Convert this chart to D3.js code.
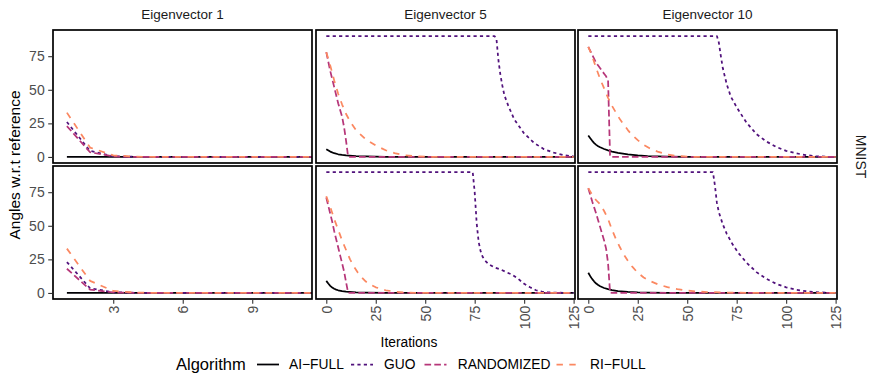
<!DOCTYPE html>
<html>
<head>
<meta charset="utf-8">
<script src="https://cdn.jsdelivr.net/npm/d3@7"></script>
<style>
  html, body { margin: 0; padding: 0; background: #fff; }
  svg { display: block; font-family: "Liberation Sans", Arial, Helvetica, sans-serif; }
</style>
</head>
<body>
<svg id="chart" width="872" height="377"></svg>
<script>
// ---------------- DATA ----------------
const algorithms = ["AI\u2212FULL", "GUO", "RANDOMIZED", "RI\u2212FULL"];
const colors = ["#000004", "#51127C", "#B63679", "#FB8861"];
const eigenvectors = ["Eigenvector 1", "Eigenvector 5", "Eigenvector 10"];
const datasetLabel = "MNIST";
const yTicks = [0, 25, 50, 75];
const xTicksEv1 = [3, 6, 9];
const xTicksEvN = [0, 25, 50, 75, 100, 125];

// Row 1 (top)
const r1_ev1_ai   = [[1,0],[12,0]];
const r1_ev1_guo  = [[1,26],[2,4.5],[3,0.5],[4,0.1],[5,0],[12,0]];
const r1_ev1_rand = [[1,23],[2,3.5],[3,0.4],[4,0.05],[5,0],[12,0]];
const r1_ev1_ri   = [[1,33],[2,7],[3,1.2],[4,0.2],[5,0],[12,0]];

const r1_ev5_ai   = [[0,5.8],[2,4],[4,2.8],[6,2],[8,1.5],[10,1.1],[15,0.6],[20,0.35],[30,0.15],[50,0.05],[125,0]];
const r1_ev5_guo  = [[0,90],[85,90],[86,88],[87,72],[88,61],[89,53],[90,46],[92,38],[95,28],[100,17.5],[105,10.5],[110,5.8],[115,3.2],[120,1.4],[125,0.4]];
const r1_ev5_rand = [[0,78],[2,64],[4,52],[6,40],[7,35],[8,30],[9,22],[10,12],[11,0.5],[12,0],[125,0]];
const r1_ev5_ri   = [[0,78],[2,68],[4,57],[6,47],[8,39],[10,32],[12,26.5],[15,20],[20,13],[25,8.5],[30,5],[35,2.6],[40,1.2],[45,0.5],[50,0.15],[60,0],[125,0]];

const r1_ev10_ai   = [[0,16],[1,14],[2,12],[3,10.3],[4,9],[5,8],[6,7.2],[8,5.9],[10,4.9],[12,4],[15,3],[20,1.9],[25,1.2],[30,0.7],[40,0.3],[50,0.1],[60,0],[125,0]];
const r1_ev10_guo  = [[0,90],[65,90],[66,85],[67,75],[68,66],[70,54],[72,45],[75,37],[78,30],[80,25.5],[85,17],[90,11.5],[95,7.5],[100,4.5],[105,2.7],[110,1.4],[115,0.6],[120,0.2],[125,0]];
const r1_ev10_rand = [[0,82],[1,79],[2,76],[3,73],[4,70],[5,68],[6,66],[7,64],[8,62],[9,60],[10,57],[11,0.3],[12,0],[125,0]];
const r1_ev10_ri   = [[0,82],[2,75],[4,66],[6,58],[8,51],[10,44],[12,38],[14,33],[16,28],[18,24],[20,20],[22,16.5],[25,12.5],[28,9],[31,6.5],[35,4],[40,1.8],[45,0.7],[50,0.2],[55,0],[125,0]];

// Row 2 (bottom)
const r2_ev1_ai   = [[1,0],[12,0]];
const r2_ev1_guo  = [[1,23],[2,3.5],[3,0.5],[4,0.1],[5,0],[12,0]];
const r2_ev1_rand = [[1,18],[2,2.5],[3,0.4],[4,0.05],[5,0],[12,0]];
const r2_ev1_ri   = [[1,33],[2,9],[3,1.5],[4,0.3],[5,0],[12,0]];

const r2_ev5_ai   = [[0,9],[1,7],[2,5.3],[3,4],[4,3.1],[5,2.5],[6,2],[8,1.4],[10,1],[15,0.5],[20,0.3],[30,0.1],[50,0],[125,0]];
const r2_ev5_guo  = [[0,90],[74,90],[75,75],[76,52],[77,38],[78,31],[79,27],[80,24.5],[82,21.5],[85,19],[88,17.5],[91,15.5],[94,13.5],[97,10.5],[100,6.8],[103,4.2],[106,2],[109,1],[112,0.5],[115,0.3],[120,0.1],[125,0]];
const r2_ev5_rand = [[0,71],[1,65],[2,59],[3,53],[4,46],[5,40],[6,34],[7,28],[8,22],[9,16],[10,8],[11,0.3],[12,0],[125,0]];
const r2_ev5_ri   = [[0,72],[2,64],[4,55],[6,47],[8,39],[10,32],[12,25],[14,19.5],[16,15],[18,11.5],[20,8.5],[22,6.5],[25,4.2],[30,2],[35,0.9],[40,0.3],[45,0.1],[50,0],[125,0]];

const r2_ev10_ai   = [[0,15],[1,12.5],[2,10.3],[3,8.5],[4,7],[5,5.9],[6,5],[8,3.7],[10,2.8],[12,2.1],[15,1.4],[20,0.8],[25,0.4],[30,0.2],[40,0.05],[50,0],[125,0]];
const r2_ev10_guo  = [[0,90],[63,90],[64,80],[65,67],[66,60],[68,51],[70,44],[73,36],[76,29.5],[80,22.5],[85,15.5],[90,10.5],[95,6.8],[100,4.2],[105,2.4],[110,1.3],[115,0.6],[120,0.2],[125,0]];
const r2_ev10_rand = [[0,78],[1,73],[2,68],[3,63.5],[4,59],[5,54],[6,49],[7,44],[8,39],[9,33],[10,22],[11,0.3],[12,0],[125,0]];
const r2_ev10_ri   = [[0,78],[2,73],[4,69],[6,66],[8,61],[10,55],[12,47],[14,40],[16,34],[18,28.5],[20,24],[22,20],[25,15],[28,11.5],[31,9],[35,6.5],[40,4.3],[45,2.8],[50,1.8],[55,1.1],[60,0.7],[70,0.3],[80,0.1],[90,0],[125,0]];

// panel table built from the arrays: [row][col] -> series in algorithm order
const panelSeries = [
  [[r1_ev1_ai, r1_ev1_guo, r1_ev1_rand, r1_ev1_ri],
   [r1_ev5_ai, r1_ev5_guo, r1_ev5_rand, r1_ev5_ri],
   [r1_ev10_ai, r1_ev10_guo, r1_ev10_rand, r1_ev10_ri]],
  [[r2_ev1_ai, r2_ev1_guo, r2_ev1_rand, r2_ev1_ri],
   [r2_ev5_ai, r2_ev5_guo, r2_ev5_rand, r2_ev5_ri],
   [r2_ev10_ai, r2_ev10_guo, r2_ev10_rand, r2_ev10_ri]]
];

// ---------------- LAYOUT ----------------
const dashes = [null, "3.2,3.2", "6.6,3.2", "6.4,6.4"];
const lineW = 1.75;
const cols = [
  { x0: 53,  x1: 312, domain: [0.4, 11.58], ticks: xTicksEv1 },
  { x0: 316, x1: 575, domain: [-5.2, 125.7], ticks: xTicksEvN },
  { x0: 578, x1: 837, domain: [-5.2, 125.7], ticks: xTicksEvN }
];
const rows = [ { y0: 30, y1: 163 }, { y0: 166, y1: 299 } ];
const yDomain = [-4.5, 94.5];
const fontFam = "Liberation Sans, Arial, sans-serif";

const svg = d3.select("#chart");
const defs = svg.append("defs");

cols.forEach((c) => {
  c.scale = d3.scaleLinear().domain(c.domain).range([c.x0, c.x1]);
});
rows.forEach((r) => {
  r.scale = d3.scaleLinear().domain(yDomain).range([r.y1, r.y0]);
});

rows.forEach((r, ri) => {
  cols.forEach((c, ci) => {
    const id = `clip-${ri}-${ci}`;
    defs.append("clipPath").attr("id", id)
      .append("rect").attr("x", c.x0).attr("y", r.y0)
      .attr("width", c.x1 - c.x0).attr("height", r.y1 - r.y0);

    const g = svg.append("g").attr("clip-path", `url(#${id})`);
    const line = d3.line().x(d => c.scale(d[0])).y(d => r.scale(d[1]));
    panelSeries[ri][ci].forEach((s, k) => {
      g.append("path")
        .attr("d", line(s))
        .attr("fill", "none")
        .attr("stroke", colors[k])
        .attr("stroke-width", lineW)
        .attr("stroke-dasharray", dashes[k])
        .attr("stroke-linejoin", "round");
    });

    svg.append("rect")
      .attr("x", c.x0).attr("y", r.y0)
      .attr("width", c.x1 - c.x0).attr("height", r.y1 - r.y0)
      .attr("fill", "none").attr("stroke", "#000").attr("stroke-width", 1.7);
  });
});

// Y axes (left column only)
rows.forEach((r) => {
  const ax = svg.append("g").attr("transform", `translate(${cols[0].x0 - 0.8},0)`)
    .call(d3.axisLeft(r.scale).tickValues(yTicks).tickSize(4).tickPadding(3.5));
  ax.select(".domain").remove();
  ax.selectAll(".tick line").attr("stroke", "#333").attr("stroke-width", 1.1);
  ax.selectAll(".tick text").attr("fill", "#4D4D4D")
    .style("font-size", "14px").style("font-family", fontFam);
});

// X axes (bottom row only)
cols.forEach((c) => {
  const ax = svg.append("g").attr("transform", `translate(0,${rows[1].y1 + 0.8})`)
    .call(d3.axisBottom(c.scale).tickValues(c.ticks).tickSize(4).tickFormat(d3.format("d")));
  ax.select(".domain").remove();
  ax.selectAll(".tick line").attr("stroke", "#333").attr("stroke-width", 1.1);
  ax.selectAll(".tick text")
    .attr("fill", "#4D4D4D")
    .attr("transform", "translate(0,6) rotate(-90)")
    .attr("x", 0).attr("y", 0).attr("dy", "0.35em")
    .attr("text-anchor", "end")
    .style("font-size", "14px").style("font-family", fontFam);
});

// Strip labels
cols.forEach((c, ci) => {
  svg.append("text")
    .attr("x", (c.x0 + c.x1) / 2).attr("y", 19)
    .attr("text-anchor", "middle")
    .attr("fill", "#1A1A1A").style("font-size", "13.5px")
    .text(eigenvectors[ci]);
});
svg.append("text")
  .attr("transform", `translate(856,156.5) rotate(90)`)
  .attr("text-anchor", "middle")
  .attr("fill", "#1A1A1A").style("font-size", "14px")
  .text(datasetLabel);

// Axis titles
svg.append("text")
  .attr("transform", `translate(19.5,165) rotate(-90)`)
  .attr("text-anchor", "middle")
  .attr("fill", "#000").style("font-size", "15.5px")
  .text("Angles w.r.t reference");
svg.append("text")
  .attr("x", 409).attr("y", 346.5)
  .attr("text-anchor", "middle")
  .attr("fill", "#000").style("font-size", "13.8px")
  .text("Iterations");

// Legend
const legY = 364.5;
svg.append("text").attr("x", 176).attr("y", 369.5)
  .attr("fill", "#000").style("font-size", "16.5px").text("Algorithm");
const keyX = [257, 351, 424.5, 556.5];
const labX = [289, 384, 457.7, 590];
algorithms.forEach((a, k) => {
  svg.append("line")
    .attr("x1", keyX[k]).attr("x2", keyX[k] + 22)
    .attr("y1", legY).attr("y2", legY)
    .attr("stroke", colors[k]).attr("stroke-width", lineW)
    .attr("stroke-dasharray", dashes[k]);
  svg.append("text").attr("x", labX[k]).attr("y", 369.3)
    .attr("fill", "#000").style("font-size", "13.8px").text(a);
});
</script>
</body>
</html>
